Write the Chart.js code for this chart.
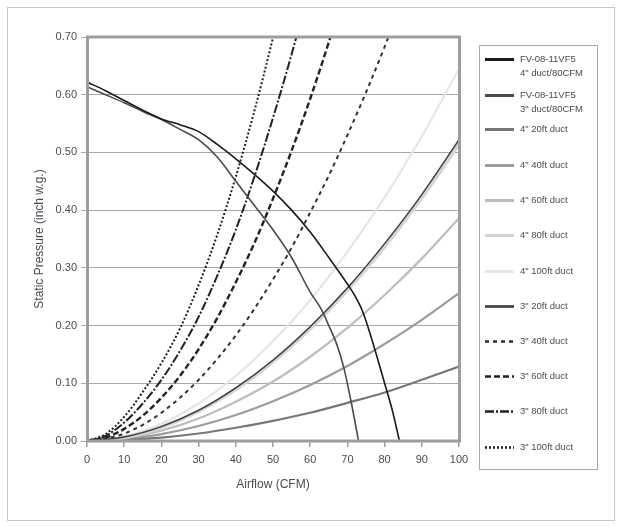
<!DOCTYPE html>
<html><head><meta charset="utf-8">
<script src="https://cdn.jsdelivr.net/npm/chart.js@4.4.0/dist/chart.umd.min.js"></script>
<style>html,body{margin:0;padding:0;background:#fff;}#wrap{width:621px;height:527px;position:relative;}</style>
</head><body><div id="wrap"><canvas id="c" width="621" height="527"></canvas></div>
<script>
// ---- data ----
const airflow10 = [0,10,20,30,40,50,60,70,80,90,100];
const airflow5  = [0,5,10,15,20,25,30,35,40,45,50,55,60,65,70,75,80,85];

const fan4Flow     = [0,5,10,15,20,25,30,35,40,45,50,55,60,65,70,72,74,76,78,80,82,84];
const fan4Pressure = [0.622,0.607,0.590,0.573,0.558,0.548,0.536,0.514,0.489,0.462,0.433,0.400,0.362,0.318,0.272,0.252,0.226,0.188,0.145,0.100,0.055,0.000];
const fan3Flow     = [0,5,10,15,20,25,30,35,40,45,50,55,60,63,65,67,69,71,73];
const fan3Pressure = [0.614,0.600,0.586,0.571,0.557,0.540,0.522,0.492,0.450,0.408,0.366,0.318,0.258,0.228,0.200,0.170,0.128,0.068,0.000];

const duct4_20  = [0,0.002,0.006,0.013,0.023,0.035,0.049,0.066,0.084,0.106,0.129];
const duct4_40  = [0,0.003,0.012,0.026,0.045,0.069,0.097,0.130,0.168,0.210,0.256];
const duct4_60  = [0,0.005,0.018,0.039,0.068,0.103,0.146,0.196,0.253,0.316,0.386];
const duct4_80  = [0,0.006,0.024,0.052,0.090,0.138,0.195,0.262,0.337,0.422,0.515];
const duct4_100 = [0,0.008,0.030,0.065,0.113,0.173,0.244,0.328,0.422,0.528,0.645];
const duct3_20  = [0,0.007,0.025,0.053,0.092,0.140,0.198,0.265,0.342,0.427,0.522];
const duct3_40  = [0,0.004,0.013,0.028,0.049,0.075,0.106,0.142,0.183,0.229,0.280,0.335,0.396,0.460,0.530,0.604,0.683,0.767];
const duct3_60  = [0,0.006,0.021,0.044,0.075,0.113,0.159,0.213,0.275,0.343,0.420,0.503,0.593,0.691,0.795];
const duct3_80  = [0,0.009,0.032,0.065,0.106,0.156,0.215,0.286,0.366,0.458,0.560,0.670,0.791];
const duct3_100 = [0,0.012,0.042,0.085,0.135,0.195,0.270,0.357,0.458,0.572,0.699,0.838];

const legendLabels = [
  ['FV-08-11VF5','4" duct/80CFM'],
  ['FV-08-11VF5','3" duct/80CFM'],
  ['4" 20ft duct'],['4" 40ft duct'],['4" 60ft duct'],['4" 80ft duct'],['4" 100ft duct'],
  ['3" 20ft duct'],['3" 40ft duct'],['3" 60ft duct'],['3" 80ft duct'],['3" 100ft duct']
];
const yTickValues = [0,0.1,0.2,0.3,0.4,0.5,0.6,0.7];
const xTickValues = [0,10,20,30,40,50,60,70,80,90,100];

function pts(xs, ys){ return ys.map((y,i)=>({x:xs[i], y:y})); }

const styles = [
  {c:'#1a1a1a', w:1.6, d:[]},
  {c:'#4a4a4a', w:1.6, d:[]},
  {c:'#777777', w:2.2, d:[]},
  {c:'#9c9c9c', w:2.2, d:[]},
  {c:'#bdbdbd', w:2.2, d:[]},
  {c:'#d4d4d4', w:4, d:[]},
  {c:'#e6e6e6', w:2.2, d:[]},
  {c:'#3a3a3a', w:1.4, d:[]},
  {c:'#333333', w:2, d:[4,4]},
  {c:'#222222', w:2.4, d:[6,3]},
  {c:'#222222', w:2, d:[9,2,2,2]},
  {c:'#222222', w:2, d:[2,2]}
];
const seriesData = [
  pts(fan4Flow, fan4Pressure), pts(fan3Flow, fan3Pressure),
  pts(airflow10, duct4_20), pts(airflow10, duct4_40), pts(airflow10, duct4_60),
  pts(airflow10, duct4_80), pts(airflow10, duct4_100), pts(airflow10, duct3_20),
  pts(airflow5, duct3_40), pts(airflow5, duct3_60), pts(airflow5, duct3_80), pts(airflow5, duct3_100)
];
const drawOrder = [0,1,7,8,9,10,11,5,2,3,4,6];

const datasets = seriesData.map((d,i)=>({
  label: legendLabels[i].join(' '),
  data: d,
  borderColor: styles[i].c,
  borderWidth: styles[i].w,
  borderDash: styles[i].d,
  pointRadius: 0,
  fill: false,
  cubicInterpolationMode: 'monotone',
  order: drawOrder.indexOf(i)
}));

const FONT = '"Liberation Sans", Arial, sans-serif';
const TXT = '#4a4a55';

const decor = {
  id: 'decor',
  afterDatasetsDraw(chart){
    const ctx = chart.ctx, a = chart.chartArea;
    ctx.save();
    ctx.strokeStyle = '#9e9e9e'; ctx.lineWidth = 3;
    ctx.strokeRect(a.left+0.5, a.top, a.right-a.left, a.bottom-a.top);
    ctx.restore();
  },
  afterDraw(chart){
    const ctx = chart.ctx, a = chart.chartArea;
    ctx.save();
    ctx.strokeStyle = '#c8c8c8'; ctx.lineWidth = 1;
    ctx.strokeRect(7.5, 7.5, 607, 513);
    ctx.fillStyle = TXT;
    ctx.font = '12px ' + FONT;
    ctx.textAlign = 'center'; ctx.textBaseline = 'middle';
    ctx.fillText('Airflow (CFM)', (a.left + a.right)/2, 485);
    ctx.save();
    ctx.translate(40, (a.top + a.bottom)/2);
    ctx.rotate(-Math.PI/2);
    ctx.fillText('Static Pressure (inch w.g.)', 0, 0);
    ctx.restore();
    ctx.strokeStyle = '#aaaaaa'; ctx.lineWidth = 1;
    ctx.strokeRect(479.5, 45.5, 118, 424);
    const ys = [59,95,129,165,200,235,271,306,341,376,411,447];
    ctx.font = '9.5px ' + FONT;
    ctx.textAlign = 'left';
    chart.data.datasets.forEach((ds,i)=>{
      const y = ys[i] + 0.5;
      ctx.save();
      ctx.strokeStyle = ds.borderColor;
      ctx.lineWidth = i < 7 ? 3 : 2.6;
      ctx.setLineDash(ds.borderDash && ds.borderDash.length ? ds.borderDash : []);
      ctx.beginPath(); ctx.moveTo(485, y); ctx.lineTo(514, y); ctx.stroke();
      ctx.restore();
      ctx.fillStyle = TXT;
      legendLabels[i].forEach((t,k)=>{ ctx.fillText(t, 520, ys[i] + k*14.5); });
    });
    ctx.restore();
  }
};

new Chart(document.getElementById('c'), {
  type: 'line',
  data: { datasets },
  options: {
    responsive: false,
    animation: false,
    layout: { padding: { left: 0, right: 162, top: 37, bottom: 0 } },
    plugins: { legend: { display: false }, tooltip: { enabled: false } },
    scales: {
      x: {
        type: 'linear', min: 0, max: 100,
        afterFit(s){ s.height = 86; },
        afterBuildTicks(s){ s.ticks = xTickValues.map(v=>({value:v})); },
        grid: { drawOnChartArea: false, drawTicks: true, tickLength: 6, color: '#9e9e9e', lineWidth: 1.5 },
        border: { display: false },
        ticks: { padding: 6, color: TXT, font: { family: FONT, size: 11 }, maxRotation: 0 }
      },
      y: {
        type: 'linear', min: 0, max: 0.7,
        afterFit(s){ s.width = 87; },
        afterBuildTicks(s){ s.ticks = yTickValues.map(v=>({value:v})); },
        grid: { drawOnChartArea: true, drawTicks: true, tickLength: 6, color: '#a8a8a8', lineWidth: 1 },
        border: { display: false },
        ticks: { padding: 4, color: TXT, font: { family: FONT, size: 11 }, callback: v => Number(v).toFixed(2) }
      }
    }
  },
  plugins: [decor]
});
</script></body></html>
